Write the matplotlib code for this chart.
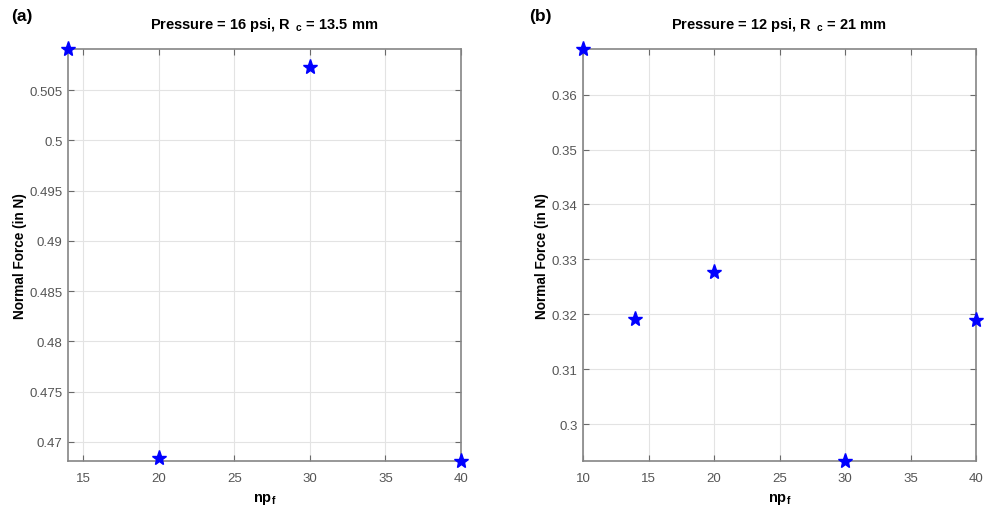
import matplotlib
matplotlib.use("Agg")
import matplotlib.pyplot as plt
from matplotlib.ticker import FuncFormatter, MultipleLocator

plt.rcParams['font.family'] = ['Liberation Sans', 'DejaVu Sans']
plt.rcParams['mathtext.fontset'] = 'custom'
plt.rcParams['mathtext.rm'] = 'Liberation Sans:bold'
plt.rcParams['mathtext.it'] = 'Liberation Sans:bold'
plt.rcParams['mathtext.bf'] = 'Liberation Sans:bold'

# Data
np_a = [14, 20, 30, 40]
force_a = [0.5091, 0.4684, 0.5073, 0.4681]
np_b = [10, 14, 20, 30, 40]
force_b = [0.3683, 0.3191, 0.3277, 0.2933, 0.3190]

title_a = r"Pressure = 16 psi, R $\,_{\mathrm{c}}$ = 13.5 mm"
title_b = r"Pressure = 12 psi, R $\,_{\mathrm{c}}$ = 21 mm"
xlabel = r"np$_{\mathrm{f}}$"
ylabel = "Normal Force (in N)"

fig = plt.figure(figsize=(9.84, 5.10), dpi=100)
W, H = 984, 510

def make_ax(l, r, t, b):
    return fig.add_axes([l / W, 1 - b / H, (r - l) / W, (b - t) / H])

ax_a = make_ax(68, 461, 50, 462)
ax_b = make_ax(583, 976, 50, 462)

fmt = FuncFormatter(lambda v, p: f"{v:g}")

for ax, x, y, title, ystep in [
    (ax_a, np_a, force_a, title_a, 0.005),
    (ax_b, np_b, force_b, title_b, 0.01),
]:
    ax.plot(x, y, linestyle='none', marker='*', markersize=11,
            color='#0000ff', clip_on=False, zorder=5)
    ax.set_xlim(min(x), max(x))
    ax.set_ylim(min(y), max(y))
    ax.xaxis.set_major_locator(MultipleLocator(5))
    ax.yaxis.set_major_locator(MultipleLocator(ystep))
    ax.yaxis.set_major_formatter(fmt)
    ax.xaxis.set_major_formatter(fmt)
    ax.grid(True, color='#e3e3e3', linewidth=0.8)
    ax.set_axisbelow(True)
    for s in ax.spines.values():
        s.set_color('#858585')
        s.set_linewidth(1.2)
    ax.tick_params(direction='in', top=True, right=True, length=4,
                   color='#6a6a6a', labelcolor='#555555', labelsize=9.5)
    ax.tick_params(axis='x', pad=8)
    ax.tick_params(axis='y', pad=4)
    ax.set_title(title, fontsize=10.5, fontweight='bold', pad=15)
    ax.set_xlabel(xlabel, fontsize=10.5, fontweight='bold', labelpad=5)
    ax.set_ylabel(ylabel, fontsize=9.8, fontweight='bold', labelpad=1.5)

fig.text(11 / W, 1 - 17 / H, "(a)", fontsize=12.5, fontweight='bold', va='center')
fig.text(529 / W, 1 - 17 / H, "(b)", fontsize=12.5, fontweight='bold', va='center')

fig.savefig("out.png", dpi=100)
